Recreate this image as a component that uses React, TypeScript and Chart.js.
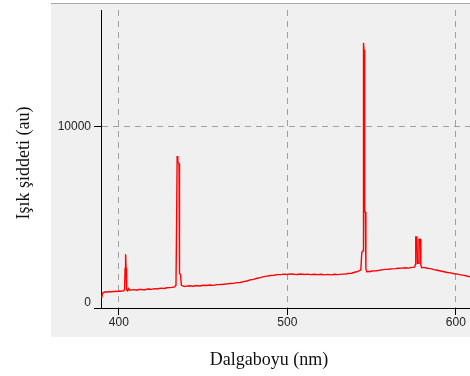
import React, { useEffect, useRef } from "react";
import { Chart, registerables } from "chart.js";

Chart.register(...registerables);

const wavelengths: number[] = [
  389.8, 390.3, 391.0, 392.0, 393.0, 394.0, 395.0, 396.0, 397.0, 398.0, 399.0, 400.0,
  401.0, 402.0, 403.0, 403.4, 403.7, 404.0, 404.3, 404.6, 405.2, 405.8, 406.4, 407.5,
  409.0, 410.5, 412.0, 413.5, 415.0, 416.5, 418.0, 419.5, 421.0, 422.5, 424.0, 425.5,
  427.0, 428.5, 430.0, 431.5, 433.0, 433.9, 434.2, 434.6, 435.0, 435.7, 436.0, 436.6,
  437.1, 438.0, 439.0, 440.0, 442.0, 444.0, 446.0, 448.0, 450.0, 452.0, 454.0, 456.0,
  458.0, 460.0, 462.0, 464.0, 466.0, 468.0, 470.0, 472.0, 474.0, 476.0, 478.0, 480.0,
  482.0, 484.0, 486.0, 488.0, 490.0, 492.0, 494.0, 496.0, 498.0, 500.0, 502.0, 504.0,
  506.0, 508.0, 510.0, 512.0, 514.0, 516.0, 518.0, 520.0, 522.0, 524.0, 526.0, 528.0,
  530.0, 532.0, 534.0, 536.0, 538.0, 540.0, 542.0, 543.6, 544.2, 544.9, 545.2, 545.5,
  545.8, 546.0, 546.3, 546.6, 547.2, 548.0, 549.0, 550.0, 552.0, 554.0, 556.0, 558.0,
  560.0, 562.0, 564.0, 566.0, 568.0, 570.0, 572.0, 574.0, 575.5, 576.0, 576.2, 576.9,
  577.2, 577.9, 578.1, 578.9, 579.2, 579.8, 581.0, 583.0, 585.0, 587.0, 589.0, 591.0,
  593.0, 595.0, 597.0, 599.0, 601.0, 603.0, 605.0, 607.0, 609.0,
];

const intensities: number[] = [
  560, 820, 860, 890, 865, 905, 885, 915, 895, 925, 905, 935,
  920, 945, 950, 1050, 2190, 2960, 2190, 1000, 950, 1070, 975, 995,
  1010, 975, 1015, 1025, 995, 1035, 1045, 1025, 1065, 1045, 1075, 1095,
  1075, 1115, 1120, 1135, 1160, 1250, 4060, 8365, 8030, 7950, 1900, 1850,
  1250, 1215, 1185, 1205, 1225, 1195, 1235, 1215, 1255, 1235, 1265, 1245,
  1285, 1290, 1305, 1325, 1345, 1355, 1395, 1405, 1455, 1485, 1545, 1575,
  1635, 1675, 1725, 1755, 1785, 1805, 1835, 1835, 1865, 1845, 1875, 1855,
  1845, 1870, 1845, 1865, 1835, 1860, 1835, 1855, 1825, 1850, 1825, 1855,
  1835, 1865, 1865, 1895, 1915, 1965, 2015, 2100, 3070, 3150, 14590, 14200,
  13380, 5290, 5290, 2150, 1990, 2015, 1995, 2035, 2045, 2065, 2095, 2125,
  2135, 2155, 2165, 2185, 2195, 2215, 2195, 2235, 2250, 2400, 3910, 3910,
  2460, 2460, 3780, 3780, 2350, 2220, 2235, 2185, 2165, 2115, 2075, 2035,
  1995, 1955, 1935, 1885, 1865, 1825, 1795, 1745, 1700,
];

const xTickValues: number[] = [400, 500, 600];
const yTickValues: number[] = [0, 10000];
const xTitle = "Dalgaboyu (nm)";
const yTitle = "Işık şiddeti (au)";

const panelPlugin = {
  id: "panelAndTitles",
  beforeDraw(chart: any) {
    const ctx = chart.ctx;
    ctx.save();
    ctx.fillStyle = "#f0f0f0";
    ctx.fillRect(51, 3, 419, 334);
    ctx.strokeStyle = "#a8a8a8";
    ctx.lineWidth = 1;
    ctx.beginPath();
    ctx.moveTo(51, 3.5);
    ctx.lineTo(470, 3.5);
    ctx.stroke();
    ctx.restore();
  },
  afterDraw(chart: any) {
    const ctx = chart.ctx;
    ctx.save();
    ctx.fillStyle = "#111";
    ctx.font = '18px "Liberation Serif", "Times New Roman", serif';
    ctx.textAlign = "center";
    ctx.textBaseline = "alphabetic";
    ctx.fillText(xTitle, 269, 365);
    ctx.translate(29, 163);
    ctx.rotate(-Math.PI / 2);
    ctx.fillText(yTitle, 0, 0);
    ctx.restore();
  },
};

export default function App() {
  const canvasRef = useRef<HTMLCanvasElement | null>(null);

  useEffect(() => {
    if (!canvasRef.current) return;
    const points = wavelengths.map((w, i) => ({ x: w, y: intensities[i] }));
    const tickFont = { family: '"Liberation Sans", Arial, sans-serif', size: 12 };
    const chart = new Chart(canvasRef.current, {
      type: "line",
      data: {
        datasets: [
          {
            data: points,
            borderColor: "#ff0000",
            borderWidth: 1.4,
            pointRadius: 0,
            tension: 0,
            fill: false,
          },
        ],
      },
      options: {
        animation: false,
        responsive: false,
        devicePixelRatio: 1,
        layout: { padding: { top: 10, right: 0, left: 0, bottom: 0 } },
        plugins: { legend: { display: false }, tooltip: { enabled: false } },
        scales: {
          x: {
            type: "linear",
            min: 389.4,
            max: 608.4,
            afterBuildTicks: (s: any) => {
              s.ticks = xTickValues.map((v) => ({ value: v }));
            },
            afterFit: (s: any) => {
              s.height = 68;
            },
            ticks: {
              color: "#222",
              font: { ...tickFont, lineHeight: 1.2 },
              padding: 0,
              maxRotation: 0,
              callback: (v: any) => String(v),
            },
            grid: {
              color: "#a0a0a0",
              lineWidth: 1,
              tickLength: 7,
              tickColor: "#000",
              tickBorderDash: [],
            },
            border: { color: "#000", width: 1, dash: [6, 5] },
          },
          y: {
            type: "linear",
            min: 0,
            max: 16400,
            afterBuildTicks: (s: any) => {
              s.ticks = yTickValues.map((v) => ({ value: v }));
            },
            afterFit: (s: any) => {
              s.width = 101;
            },
            ticks: {
              color: "#222",
              font: { ...tickFont, lineHeight: 0.95 },
              padding: 3,
              callback: (v: any) => (v === 0 ? ["0", ""] : String(v)),
            },
            grid: {
              color: (c: any) =>
                c.tick && c.tick.value === 0 ? "rgba(0,0,0,0)" : "#a0a0a0",
              lineWidth: 1,
              tickLength: 7,
              tickColor: "#000",
              tickBorderDash: [],
            },
            border: { color: "#000", width: 1, dash: [6, 5] },
          },
        },
      },
      plugins: [panelPlugin],
    });
    return () => chart.destroy();
  }, []);

  return (
    <div style={{ position: "absolute", left: 0, top: 0, width: 470, height: 376 }}>
      <canvas ref={canvasRef} width={470} height={376} />
    </div>
  );
}
